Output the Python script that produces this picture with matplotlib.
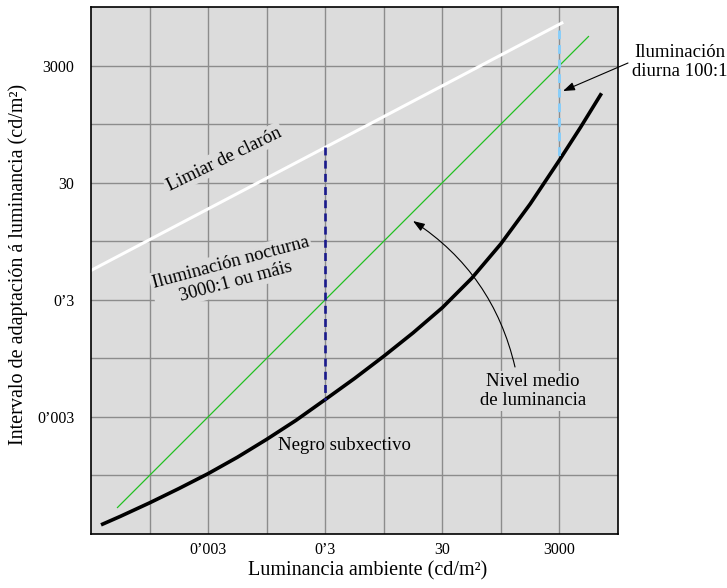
import matplotlib
matplotlib.use("Agg")
import matplotlib.pyplot as plt

plt.rcParams['font.family'] = ['Liberation Serif', 'DejaVu Serif']

# ---- data ----
tick_vals = [0.003, 0.3, 30, 3000]
tick_labels = ["0’003", "0’3", "30", "3000"]
grid_vals = [3e-4, 3e-3, 3e-2, 3e-1, 3, 30, 300, 3000]

glare_x = [3e-5, 3300]
glare_y = [0.95, 16000]

mean_x = [8.5e-5, 9400]
mean_y = [8.5e-5, 9400]

black_x = [4.45e-5, 9.5e-5, 3e-4, 9.5e-4, 3e-3, 9.5e-3, 0.03, 0.095, 0.3, 0.95,
           3, 9.5, 30, 95, 300, 950, 3000, 6870, 15700]
black_y = [4.30e-5, 6.0e-5, 1.02e-4, 1.79e-4, 3.22e-4, 6.14e-4, 1.24e-3, 2.62e-3,
           5.93e-3, 0.0136, 0.0326, 0.0818, 0.220, 0.697, 2.71, 13.0, 72.9, 264, 1009]

night_x = [0.3, 0.3]
night_y = [122, 5.9e-3]

day_x = [3000, 3000]
day_y = [12000, 70]

W, H = 727, 588
fig = plt.figure(figsize=(W / 100, H / 100), dpi=100)
ax = fig.add_axes([91 / W, 1 - 534 / H, (618 - 91) / W, (534 - 7) / H])
ax.set_facecolor('#dcdcdc')
ax.set_xscale('log')
ax.set_yscale('log')
ax.set_xlim(3e-5, 3e4)
ax.set_ylim(3e-5, 3e4)

ax.set_xticks(grid_vals)
ax.set_yticks(grid_vals)
ax.set_xticklabels([tick_labels[tick_vals.index(v)] if v in tick_vals else "" for v in grid_vals])
ax.set_yticklabels([tick_labels[tick_vals.index(v)] if v in tick_vals else "" for v in grid_vals])
ax.minorticks_off()
ax.tick_params(axis='both', length=0, labelsize=11.5)
ax.tick_params(axis='x', pad=6)
ax.tick_params(axis='y', pad=12)
ax.grid(True, color='#8c8c8c', lw=1.0)
ax.set_axisbelow(True)
for s in ax.spines.values():
    s.set_linewidth(1.2)

ax.plot(glare_x, glare_y, color='white', lw=2.2)
ax.plot(mean_x, mean_y, color='#22c022', lw=0.9)
ax.plot(black_x, black_y, color='black', lw=2.6, solid_capstyle='butt',
        solid_joinstyle='round')
ax.plot(night_x, night_y, color='#1a1a8c', lw=1.9, dashes=(3.0, 2.0))
ax.plot(day_x, day_y, color='#87cefa', lw=2.1, dashes=(3.0, 2.0))


def P(x, y):
    return (x / W, 1 - y / H)


bb = dict(facecolor='#dcdcdc', edgecolor='none', pad=1.5)
fig.text(*P(224, 159), "Limiar de clarón", fontsize=13.5, rotation=26,
         ha='center', va='center', rotation_mode='anchor', bbox=bb)
fig.text(*P(233, 272), "Iluminación nocturna\n3000:1 ou máis", fontsize=13.5,
         rotation=15, ha='center', va='center', multialignment='center',
         rotation_mode='anchor', bbox=bb)
fig.text(*P(344, 445), "Negro subxectivo", fontsize=13.5, ha='center', va='center')
fig.text(*P(533, 391), "Nivel medio\nde luminancia", fontsize=13.5, ha='center',
         va='center', multialignment='center', bbox=bb)
fig.text(*P(680, 62), "Iluminación\ndiurna 100:1", fontsize=13.5, ha='center',
         va='center', multialignment='center')

ap = dict(arrowstyle='-|>,head_length=0.7,head_width=0.25', color='black', lw=0.8,
          shrinkA=0, shrinkB=0)
ax.annotate('', xy=P(413, 221), xytext=P(515, 367), xycoords='figure fraction',
            textcoords='figure fraction',
            arrowprops=dict(ap, connectionstyle='arc3,rad=0.2'))
ax.annotate('', xy=P(563, 91), xytext=P(628, 63), xycoords='figure fraction',
            textcoords='figure fraction', arrowprops=ap, annotation_clip=False)

fig.text(*P(368, 571), "Luminancia ambiente (cd/m²)", fontsize=14.5,
         ha='center', va='center')
fig.text(*P(18, 264), "Intervalo de adaptación á luminancia (cd/m²)", fontsize=14.5,
         ha='center', va='center', rotation=90)

fig.savefig('out.png', dpi=100)
